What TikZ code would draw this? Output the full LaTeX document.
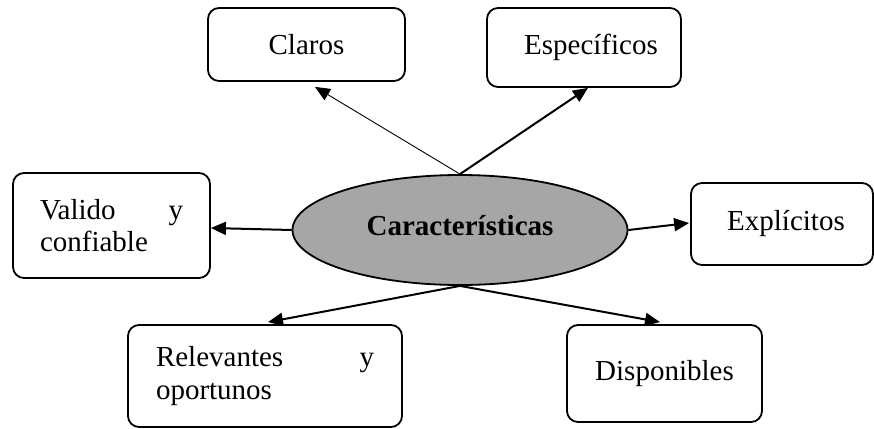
\documentclass[tikz,border=0pt]{standalone}
\usepackage{fontspec}
\setmainfont{Liberation Serif}
\usetikzlibrary{shapes.geometric,arrows.meta}
\definecolor{ellgray}{RGB}{166,166,166}
\tikzset{
  txt/.style={font=\fontsize{29}{32.5}\selectfont},
  box/.style={txt,draw,line width=1.8pt,rounded corners=11pt,inner sep=0pt,align=center},
  center/.style={txt,draw,line width=1.8pt,ellipse,fill=ellgray,inner sep=0pt,minimum width=335pt,minimum height=110pt},
  arr/.style={line width=2pt,-{Triangle[length=15pt,width=13pt]}},
  thinarr/.style={line width=0.9pt,-{Triangle[length=15pt,width=13pt]}}
}
\begin{document}
\begin{tikzpicture}[x=1pt,y=-1pt]
\useasboundingbox (0,0) rectangle (874,428);
\node[center] (car) at (460,230) {\raisebox{9pt}{\bfseries Características}};
\node[box,minimum width=197pt,minimum height=73pt] (claros) at (306.5,44.5) {Claros};
\node[box,minimum width=194pt,minimum height=79pt] (espec) at (584,47.5) {\hspace*{14pt}\raisebox{-3pt}{Específicos}};
\node[box,minimum width=197pt,minimum height=105pt,text width=143pt,align=left] (valido) at (111.5,225.5) {Valido\hfill y\\confiable};
\node[box,minimum width=182pt,minimum height=82pt] (explic) at (782,224) {\hspace*{8pt}\raisebox{8pt}{Explícitos}};
\node[box,minimum width=274pt,minimum height=102pt,text width=218pt,align=left] (relev) at (265,376) {Relevantes\hfill y\\oportunos};
\node[box,minimum width=195pt,minimum height=97pt] (dispon) at (664.5,373.5) {Disponibles};
\draw[thinarr] (car.north) -- ([xshift=8.5pt,yshift=-5pt]claros.south);
\draw[arr] (car.north) -- ([xshift=4pt]espec.south);
\draw[arr] (car.west) -- ([yshift=-2.5pt]valido.east);
\draw[arr] (car.east) -- ([xshift=-1pt,yshift=1pt]explic.west);
\draw[arr] (car.south) -- ([xshift=3pt,yshift=2pt]relev.north);
\draw[arr] (car.south) -- ([xshift=-4.5pt,yshift=2pt]dispon.north);
\end{tikzpicture}
\end{document}
